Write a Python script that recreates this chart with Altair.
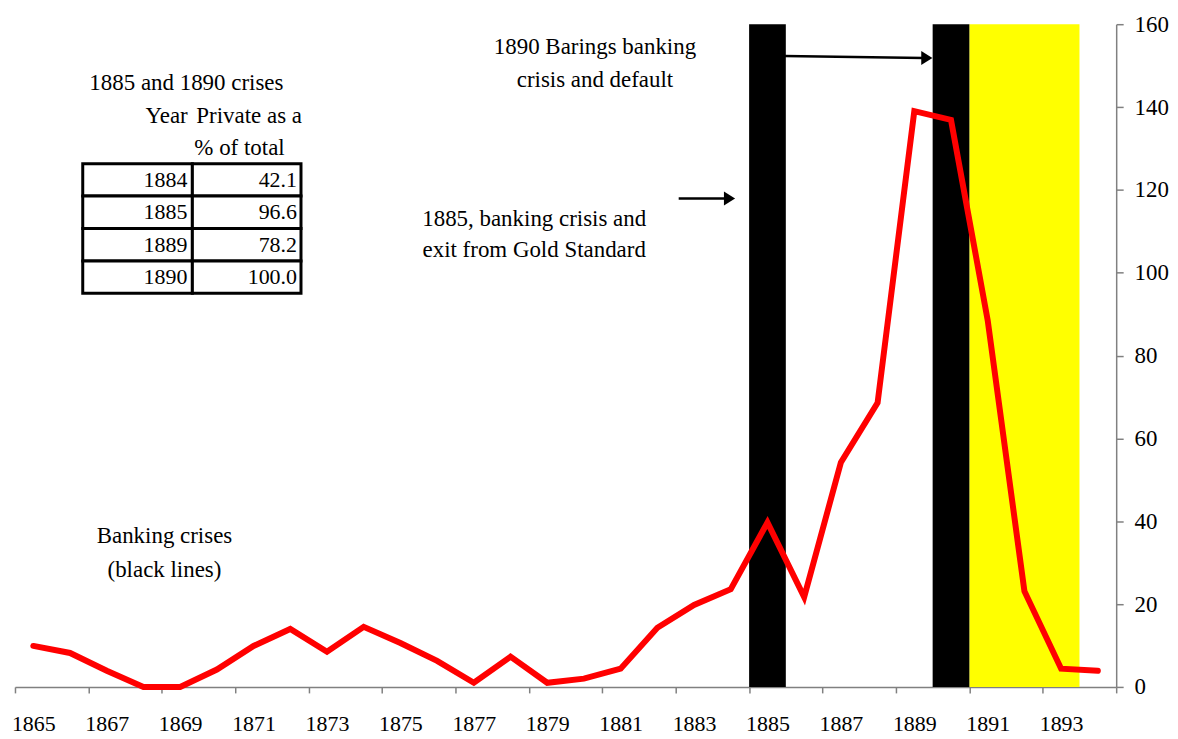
import altair as alt
import pandas as pd

# ---- data ----
years = list(range(1865, 1895))
values = [9.9, 8.2, 3.9, 0.0, 0.0, 4.2, 9.9, 14.0, 8.5, 14.5,
          10.6, 6.3, 1.0, 7.3, 1.0, 2.0, 4.4, 14.3, 19.8, 23.6,
          39.7, 21.7, 54.2, 68.6, 139.0, 136.9, 88.5, 23.1, 4.4, 3.9]

crisis_years = [1885, 1890]
default_years = [1891, 1893]   # start, end of shaded default period

table_years = [1884, 1885, 1889, 1890]
table_pct = [42.1, 96.6, 78.2, 100.0]

y_ticks = [0, 20, 40, 60, 80, 100, 120, 140, 160]

# ---- frames ----
line_df = pd.DataFrame({"year": years, "value": values})
crisis_df = pd.DataFrame({"start": [y - 0.5 for y in crisis_years],
                          "end": [y + 0.5 for y in crisis_years]})
default_df = pd.DataFrame({"start": [default_years[0] - 0.5],
                           "end": [default_years[1] + 0.5]})
tbl_df = pd.DataFrame({"row": list(range(len(table_years))),
                       "year": table_years, "pct": table_pct})
tbl_df["row_end"] = tbl_df["row"] + 1
tbl_df["mid"] = tbl_df["row"] + 0.5

FONT = "Liberation Serif"
W, H = 1105, 665
xmin, xmax = years[0] - 0.5, years[-1] + 0.5
xscale = alt.Scale(domain=[xmin, xmax], nice=False, zero=False)
band = W / len(years)
boundaries = [y - 0.5 for y in years] + [years[-1] + 0.5]

label_expr = ("((datum.value + 0.5) % 2 == 1 && datum.value < " + str(years[-1]) +
              ") ? format(datum.value + 0.5, 'd') : ''")

x_axis = alt.Axis(values=boundaries, title=None, grid=False,
                  labelExpr=label_expr,
                  labelOffset=band / 2, labelFlush=False, labelOverlap=False,
                  labelBound=False, tickSize=6, tickColor="#808080",
                  domainColor="#808080", domainWidth=1.5, tickWidth=1.5,
                  labelFont=FONT, labelFontSize=22, labelColor="black",
                  labelPadding=21)

yscale = alt.Scale(domain=[0, 160], nice=False)
y_axis = alt.Axis(orient="right", values=y_ticks, title=None, grid=False,
                  tickSize=7, tickColor="#808080", domainColor="#808080",
                  domainWidth=1.5, tickWidth=1.5, labelFont=FONT,
                  labelFontSize=23, labelColor="black", labelPadding=11)

default_band = alt.Chart(default_df).mark_rect(color="#FFFF00").encode(
    x=alt.X("start:Q", scale=xscale, axis=x_axis), x2="end:Q",
    y=alt.value(0), y2=alt.value(H))

crisis_bars = alt.Chart(crisis_df).mark_rect(color="black").encode(
    x=alt.X("start:Q", scale=xscale), x2="end:Q",
    y=alt.value(0), y2=alt.value(H))

line = alt.Chart(line_df).mark_line(color="#FF0000", strokeWidth=6,
                                    strokeCap="round").encode(
    x=alt.X("year:Q", scale=xscale),
    y=alt.Y("value:Q", scale=yscale, axis=y_axis))

# ---- table ----
tscale = alt.Scale(domain=[0, 4], range=[140, 270], nice=False, zero=False)
tbl_base = alt.Chart(tbl_df)
cell1 = tbl_base.mark_rect(fill="white", stroke="black", strokeWidth=3).encode(
    x=alt.value(68), x2=alt.value(178),
    y=alt.Y("row:Q", scale=tscale, axis=None), y2="row_end:Q")
cell2 = tbl_base.mark_rect(fill="white", stroke="black", strokeWidth=3).encode(
    x=alt.value(178), x2=alt.value(287),
    y=alt.Y("row:Q", scale=tscale, axis=None), y2="row_end:Q")
txt1 = tbl_base.mark_text(align="right", baseline="middle", font=FONT,
                          fontSize=22, color="black").encode(
    x=alt.value(173), y=alt.Y("mid:Q", scale=tscale, axis=None),
    text=alt.Text("year:Q", format="d"))
txt2 = tbl_base.mark_text(align="right", baseline="middle", font=FONT,
                          fontSize=22, color="black").encode(
    x=alt.value(283), y=alt.Y("mid:Q", scale=tscale, axis=None),
    text=alt.Text("pct:Q", format=".1f"))

# ---- annotations ----
def label(text, x, y, align="center"):
    return alt.Chart(pd.DataFrame({"t": [text]})).mark_text(
        align=align, baseline="middle", font=FONT, fontSize=23,
        color="black").encode(x=alt.value(x), y=alt.value(y), text="t:N")

notes = [
    label("1885 and 1890 crises", 172, 59),
    label("Year", 131, 92, "left"),
    label("Private as a", 182, 92, "left"),
    label("% of total", 180, 124, "left"),
    label("1890 Barings banking", 582, 23),
    label("crisis and default", 582, 56),
    label("1885, banking crisis and", 521, 195),
    label("exit from Gold Standard", 521, 227),
    label("Banking crises", 150, 514),
    label("(black lines)", 150, 548),
]

arrow_df = pd.DataFrame({"k": [0]})
arrow1 = alt.Chart(arrow_df).mark_rule(color="black", strokeWidth=2.5).encode(
    x=alt.value(666), x2=alt.value(714), y=alt.value(175))
head1 = alt.Chart(arrow_df).mark_point(shape="M-0.8,-1L0.8,0L-0.8,1Z",
                                       filled=True, color="black", opacity=1,
                                       size=196).encode(
    x=alt.value(717), y=alt.value(175))
arrow2 = alt.Chart(arrow_df).mark_rule(color="black", strokeWidth=2.5).encode(
    x=alt.value(772), x2=alt.value(912), y=alt.value(32), y2=alt.value(34))
head2 = alt.Chart(arrow_df).mark_point(shape="M-0.8,-1L0.8,0L-0.8,1Z",
                                       filled=True, color="black", opacity=1,
                                       size=196).encode(
    x=alt.value(915), y=alt.value(34))

chart = alt.layer(
    default_band, crisis_bars, line, cell1, cell2, txt1, txt2,
    arrow1, head1, arrow2, head2, *notes
).resolve_scale(y="independent").properties(
    width=W, height=H,
    padding={"left": 7, "top": 15, "right": 54, "bottom": 50},
    autosize=alt.AutoSizeParams(type="none"),
    background="white",
).configure_view(stroke=None)

chart.save("out.html", embed_options={"renderer": "svg", "actions": False})
